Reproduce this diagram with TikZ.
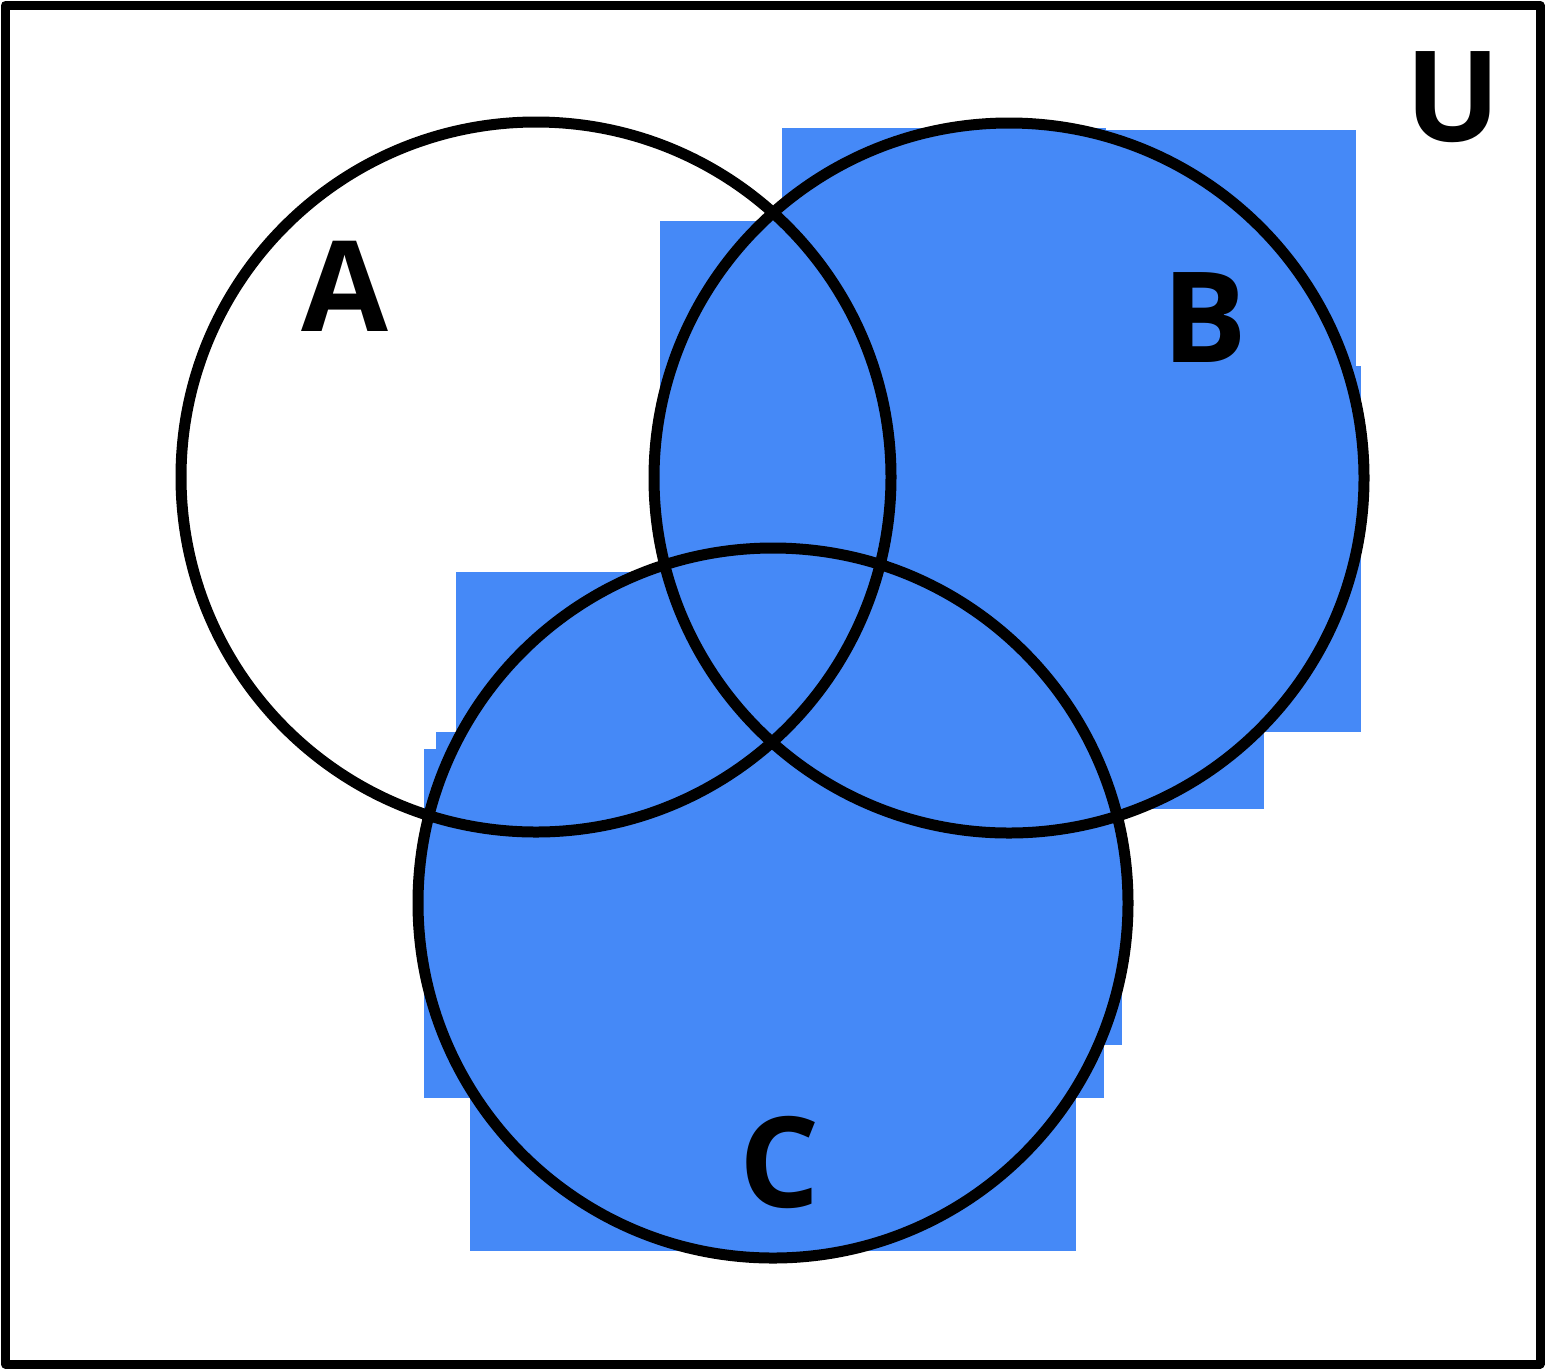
\documentclass[tikz,border=0pt]{standalone}
\usepackage{fontspec}
\setmainfont{Open Sans}
\usepackage{tikz}
\definecolor{vennblue}{RGB}{69,137,247}

\begin{document}
\begin{tikzpicture}[x=1pt, y=-1pt, setring/.style={line width=11pt},
    setlabel/.style={inner sep=0pt, font=\fontsize{126}{126}\bfseries\selectfont}]
  \useasboundingbox (0,0) rectangle (1546,1369);
  \coordinate (ca) at (536,477);
  \coordinate (cb) at (1009,478);
  \coordinate (cc) at (773,903);
  % shading of B and C, with its blocky spill
  \foreach \xa/\ya/\xb/\yb in {782/128/1106/478, 1106/130/1356/478, 1000/366/1361/732, 1000/732/1264/809,
      660/221/782/478, 456/572/772/732, 436/732/772/749, 424/749/772/1098, 470/1098/1076/1251,
      772/903/1122/1045, 772/1045/1104/1098}
    \path[fill=vennblue] (\xa,\ya) rectangle (\xb,\yb);
  \path[fill=vennblue] (cb) circle[radius=355];
  \path[fill=vennblue] (cc) circle[radius=355];
  \path[draw, setring] (ca) circle[radius=355] (cb) circle[radius=355] (cc) circle[radius=355];
  \path[draw, line width=9pt, line join=round] (5.5,5.5) rectangle (1540,1364);
  \node[setlabel] (labA) at (345,286) {A};
  \node[setlabel] (labB) at (1205,318) {B};
  \node[setlabel] (labC) at (780,1162) {C};
  \node[setlabel] (labU) at (1453,97) {U};
\end{tikzpicture}
\end{document}
